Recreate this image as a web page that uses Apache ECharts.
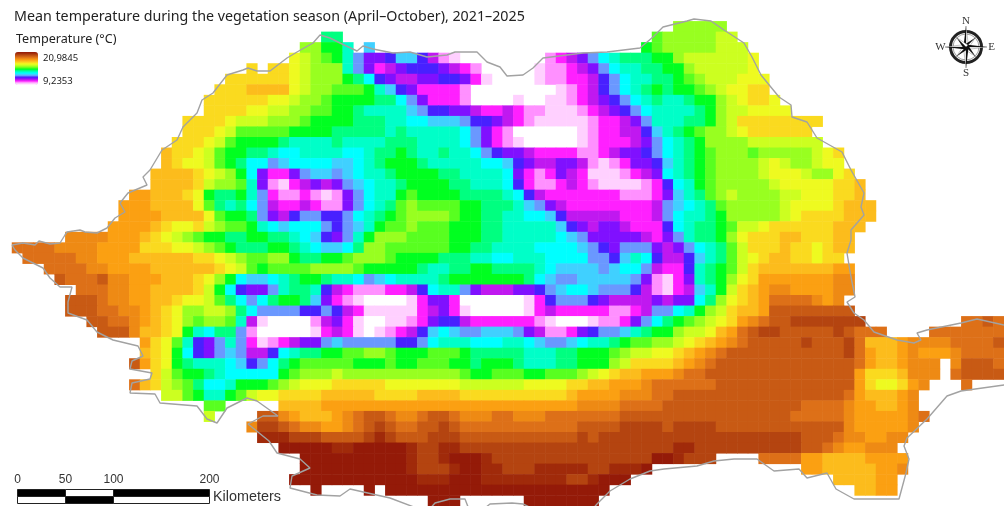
<!DOCTYPE html>
<html><head><meta charset="utf-8">
<style>html,body{margin:0;padding:0;background:#fff}#c{width:1004px;height:506px}</style>
<script src="https://cdn.jsdelivr.net/npm/echarts@6/dist/echarts.min.js"></script>
</head><body><div id="c"></div>
<script>
const titleText = 'Mean temperature during the vegetation season (April–October), 2021–2025';
const legendTitle = 'Temperature (°C)';
const tempMax = 20.9845, tempMin = 9.2353;
const levelCodes = '0123456789abcdefghijklmnop';
const levelColors = ['#ffffff','#ffd0ff','#ff90ff','#ff20ff','#c018f0','#8010ff','#4820ff','#6a98ff','#40d0ff','#00ffff','#00ffc8','#00ff80','#00ff20','#58ff20','#98ff20','#ccff20','#eefa20','#fada1f','#fcbc1c','#fba012','#ee8a14','#dd7018','#c85a14','#b44410','#a02a0a','#941a08'];
// one entry per raster row: "firstColumn:levelCodes" runs
const temperatureRows = [
'62:eeeee',
'29:bb 60:deeeeeff',
'27:eecca 33:8 59:cdeeeeefff',
'26:gfedca7556886421 50:234579abbbcc 62:effffffg',
'22:h 24:hhgfeeea753456665432 49:12234579aabbc 62:cefffffg',
'20:hhhhhhgfeeecb965445566531 49:122334679aabb 62:cdefffggg',
'19:hhhiiiigfeedddca86533332 51:1234679abcb 62:ccdefgghh',
'18:hhhhhhggfeedccccbb9753332 47:100112345679aba 62:abccefghhg',
'18:hhhhggffeeddccbaaaa87665543343221112345679aaaa 64:bceffgggg',
'16:hhhhgfffeeedcc 30:ccbbbaa99888766543211111233457a 61:aabbcefhhhhhhhh',
'16:hhhgfdddddcccc 30:bbbbbabaaaaa97532000000123344 68 61:abcdeefghhhhhh'.split(' 68').join('68'),
'15:hhhgfdccccbaaaa 30:baaaabbbaaaa975321000001233 3457 61:9abceeeefffffff'.split('1233 3457').join('12333457'),
'14:ihhgfdccbba99aaa 30:a99abbcbaabaa976554333322345567 61:9abcdeeedeeeeefgh',
'14:ihggfdcb99789999 30:889abcccbaaaaa99865445542123556 61:8abcdeeeefgfeefgg',
'13:iiiihgfec95335788 30:789aabccccbbaaaa953235431112345 61:9abcdeeeefgggfeegh',
'13:iiiihfeeda5213454 30:5789aabccccbbaaa963223432111123 61:69acdeeeeefggggghhi',
'11:jjiiihgcbbca7322321 30:2579aacdccccbbbba96433333332223 61:58abdefeeeeffggghhi',
'10:jjjiiiigdbab97433432 30:2579abdeddddccbbba8754333333334 61:789abdeeeeefgggghiii',
'10:jjjjiiiigdccb7546776 30:679abcdeeeedccbbaa9986444443334 61:79aabceeeeefghhhhiii',
'9:jjjjihgghfeddca989997 30:678acddedddcccbbaaaaa8654554333 61:69abbcdffghhhhhhiii',
'5:kkkkjjjihgfedccbbccbba986 30:57aceeeddddcccbbaaaaa9875555543 61:57abbceghhhiihhhii',
'0:llllkkkkjjjjhhhggfedcbbbccba98 30:89beeddddddccbbaaaa999987657775 61:4579abdfhhhihhghii',
'1:lllllkkjjjiiiiiihhgfeddeecbbc 30:cdeeedccccbbbaa99aaa99997768a96 61:4468abdfghiihhghh',
'3:llllkkjjjjiiiiiihgfdcddddee 30:eedcccccbaabbccbbbba98888789974 61:336abcdfhiiiiiiijj',
'4:mlllmkkjjjiiihgec9889abccb 30:aa9789aaaabcccccccb987788888752 61:135abceghjjjjjjjkk',
'6:lllkkjjiiiihfc96557abba6 30:4322233469aa754445567899877 7642 61:1348acfhijkkjjjjkk'.split('877 7642').join('8777642'),
'5:mmmlkkjjiihggfdb979bccb85 30:3210000135530000001367776544445 61:4559beghijllllkjk',
'5:mmmllkkjihgeeffeb97777667 30:6431111134531000001343333322347 61:79acefhiijmmmmmmmm',
'7:mmllkjihgedeeda4100002 4 30:5310011235664333333210001223579 61:bcdefghjklmmnnnnnnn 89:llml'.split('2 4 ').join('24 '),
'8:mmmkiihgca9bb720000013 30:4310123468987788875422356778abc 61:ceffgijlmnnmmmmmnmlll 86:lllllll',
'12:jhgda657a731234557 30:8777776679aaa999aa98778 9aabcdde 61:efghijklmmmmmnmmmnliiijkkkkllllm'.split('778 9').join('7789'),
'12:ihgc96578744 69abbc 30:cddeedcccdddcbbbbbaaabbcccdeffg 61:ghijklmmmmmmmmmmmnljiijkjjjkllll'.split('744 69').join('74469'),
'11:mjhgcbaaa98679bcddd 30:ddcccdccdddccbcccbaaabbcccefhhh 61:hijklmmmmmmmmmmmmmljiijkkk.kmmml',
'13:hfdccba99999cdeee 30:feeeeeeeeeeedccdddccdddefghiijj 61:jkllmmmmmmmmmmmmmmjhhhikkk.lmmmm',
'11:lihfedb99acccdefggg 30:hhhhhgggggggffffffgggghhiijjjkl 61:lllllmmmmmmmmmmmmmjhgghjk 89:l',
'14:ffdcaacdfgghhhhi 30:iiiihhhhiiiihhhhhhhhhhijjjjkkkl 61:lmmmmmmmmmmmmmmmmljiiijk',
'18:dd 25:iiiij 30:jjjjjjjjjjjjjjjjjjjjjjjkkkkllll 61:mmmmmmmmmmmmmllllkjjiijk',
'18:f 23:mmkjiii 30:jklmmlkklmmlkkkllkkklllllllmmmm 61:mmmmmmmmmmmmlllllkjjjjjkl',
'22:knnmlkkj 30:jklmnmllmmnmlllllllllllmmmmnnnn 61:mnnnnmmmmmmmmmmmmkjjjjjk',
'23:ooonnnm 30:mmmnonmmmnnnmmmmmmmmmmmnmnnnnnn 61:nnnnnnnnnnnnnmmmlkkjjkk',
'25:ppppp 30:oopppppo'+'nnoonnnnnnnnnnnnnnnnnnn 61:noonnnnnnnnnnmmlkjjkkk',
'27:ppp 30:pppppppo'+'nnopppo'+'nnnnnnnnnnnnnnnp 61:ponnn 70:lllljjiiiijjjj',
'27:ppp 30:pppppppo'+'nnnoppoonnnooooonnooop 74:jjiiiiijjk',
'26:pppp 30:ppppppppoooppp'+'oooooooonnoppp 77:iiiijj',
'28:p 33:p 35:ppppppppppppppppppppp 79:iijj',
'39:ppp 48:ppppppp'
];
// outline, in the picture's own pixel frame
const borderX = [12,23,35,39,50,60,65,67,80,85,97,107,115,125,120,128,147,143,150,162,177,183,197,202,213,227,243,248,257,270,287,297,313,320,330,340,357,363,373,393,410,427,447,455,477,487,500,507,523,533,543,583,607,640,653,663,687,694,711,724,744,752,761,779,791,792,807,817,842,851,864,861,864,851,851,847,851,855,847,854,864,874,897,914,921,917,927,961,977,1004,1012,1012,1004,961,947,927,907,904,909,906,899,854,836,827,807,799,774,757,734,714,697,664,650,630,610,597,590,540,523,512,490,480,470,465,450,435,427,390,350,340,317,290,292,310,300,277,269,248,263,278,257,247,227,217,207,197,160,155,130,132,150,152,130,132,143,138,113,97,87,68,68,72,60,50,43,23,15,12];
const borderY = [245,243,245,241,244,243,235,232,230,232,233,228,218,212,203,193,185,177,170,150,140,127,113,100,93,75,70,68,71,71,58,52,43,35,38,43,51,46,49,53,52,57,55,52,52,62,67,76,75,68,58,53,52,48,37,27,21,19,21,30,43,57,75,97,105,117,122,138,152,170,193,207,215,230,240,253,277,297,302,313,320,332,340,343,340,333,330,323,319,325,325,385,385,391,396,419,438,446,459,473,499,499,489,473,478,469,471,459,459,461,466,469,471,479,491,504,512,512,504,503,504,512,512,499,499,503,512,498,489,496,495,488,476,468,459,453,441,424,416,416,401,398,408,423,419,406,403,394,393,383,379,373,369,361,356,346,340,332,320,313,302,287,287,278,268,258,250,245];
const scaleKm = [0,50,100,200];
const compassLetters = [['N',0],['E',90],['S',180],['W',270]];

const pxPerKm = 0.96, barX = 17.5, barY = 489.5, barH = 7;
const step = (tempMax - tempMin) / (levelCodes.length - 1);
const cols = Array.from({length: 93}, (_, i) => i);
const lines = Array.from({length: 46}, (_, i) => i);
const cells = [];
temperatureRows.forEach((row, r) => {
  row.split(' ').forEach(run => {
    const [start, codes] = run.split(':');
    [...codes].forEach((ch, k) => {
      const lv = levelCodes.indexOf(ch);
      if (lv >= 0) cells.push([+start + k, r, tempMin + lv * step]);
    });
  });
});

const g = [];
const txt = (x, y, t, size, family, extra) => g.push({type:'text', x, y, silent:true, z:20,
  style:Object.assign({text:t, fontSize:size, fontFamily:family, fill:'#222', textVerticalAlign:'middle'}, extra||{})});
txt(16, 39, legendTitle, 12.6, 'Noto Sans');
txt(43, 58.5, tempMax.toFixed(4).replace('.',','), 9.5, 'Noto Sans');
txt(43, 81, tempMin.toFixed(4).replace('.',','), 9.5, 'Noto Sans');
const kmX = km => barX + km * pxPerKm;
scaleKm.slice(1).forEach((km, i) => {
  const a = kmX(scaleKm[i]), w = kmX(km) - a;
  g.push({type:'rect', z:20, silent:true, shape:{x:a, y:barY, width:w, height:barH}, style:{fill:i%2?'#fff':'#000', stroke:'#222', lineWidth:1}});
  g.push({type:'rect', z:20, silent:true, shape:{x:a, y:barY+barH, width:w, height:barH}, style:{fill:i%2?'#000':'#fff', stroke:'#222', lineWidth:1}});
});
scaleKm.forEach(km => txt(kmX(km), 480, String(km), 12, 'Liberation Sans', {textAlign:'center', fill:'#333'}));
txt(213, 497.5, 'Kilometers', 14.4, 'Liberation Sans', {fill:'#333'});
const cx = 966, cy = 47;
g.push({type:'circle', z:20, silent:true, shape:{cx, cy, r:15.5}, style:{fill:'none', stroke:'#222', lineWidth:3}});
g.push({type:'circle', z:20, silent:true, shape:{cx, cy, r:13}, style:{fill:'none', stroke:'#777', lineWidth:0.7}});
[0,45,90,135,180,225,270,315].forEach(deg => {
  const a = deg * Math.PI / 180, major = deg % 90 === 0, L = major ? 21 : 13.5, w = major ? 2.6 : 2.8;
  const tip = [cx + L*Math.sin(a), cy - L*Math.cos(a)];
  const s1 = [cx + w*Math.cos(a), cy + w*Math.sin(a)], s2 = [cx - w*Math.cos(a), cy - w*Math.sin(a)];
  g.push({type:'polygon', z:21, silent:true, shape:{points:[[cx,cy],tip,s1]}, style:{fill:'#fff', stroke:'#333', lineWidth:0.3}});
  g.push({type:'polygon', z:21, silent:true, shape:{points:[[cx,cy],tip,s2]}, style:{fill:'#111'}});
});
compassLetters.forEach(([t, deg]) => {
  const a = deg * Math.PI / 180;
  txt(cx + 25.5*Math.sin(a), cy - 26*Math.cos(a), t, 11, 'Liberation Serif', {textAlign:'center', fill:'#333'});
});

const chart = echarts.init(document.getElementById('c'), null, {renderer:'canvas'});
chart.setOption({
  animation:false,
  backgroundColor:'#fff',
  title:{text:titleText, left:14, top:10, padding:0, textStyle:{fontFamily:'Noto Sans', fontSize:14.25, fontWeight:'normal', color:'#222'}},
  grid:[
    {left:12, top:21.333, width:992, height:490.667, containLabel:false},
    {left:0, top:0, width:1004, height:506, containLabel:false}
  ],
  xAxis:[
    {type:'category', data:cols, show:false, gridIndex:0},
    {type:'value', min:0, max:1004, show:false, gridIndex:1}
  ],
  yAxis:[
    {type:'category', data:lines, inverse:true, show:false, gridIndex:0},
    {type:'value', min:0, max:506, inverse:true, show:false, gridIndex:1}
  ],
  visualMap:{type:'continuous', min:tempMin, max:tempMax, seriesIndex:0, left:15, top:52, padding:0,
    itemWidth:23, itemHeight:33, calculable:false, realtime:false, text:null, showLabel:false, hoverLink:false,
    inRange:{color:levelColors}, textStyle:{fontSize:0}},
  series:[
    {type:'heatmap', data:cells, xAxisIndex:0, yAxisIndex:0, progressive:0, silent:true,
     itemStyle:{borderWidth:0}, emphasis:{disabled:true}},
    {type:'line', data:borderX.map((x,i)=>[x,borderY[i]]), xAxisIndex:1, yAxisIndex:1, symbol:'none', silent:true, z:5,
     lineStyle:{color:'#a2a2a2', width:1.4}}
  ],
  graphic:{elements:g}
});
</script></body></html>
